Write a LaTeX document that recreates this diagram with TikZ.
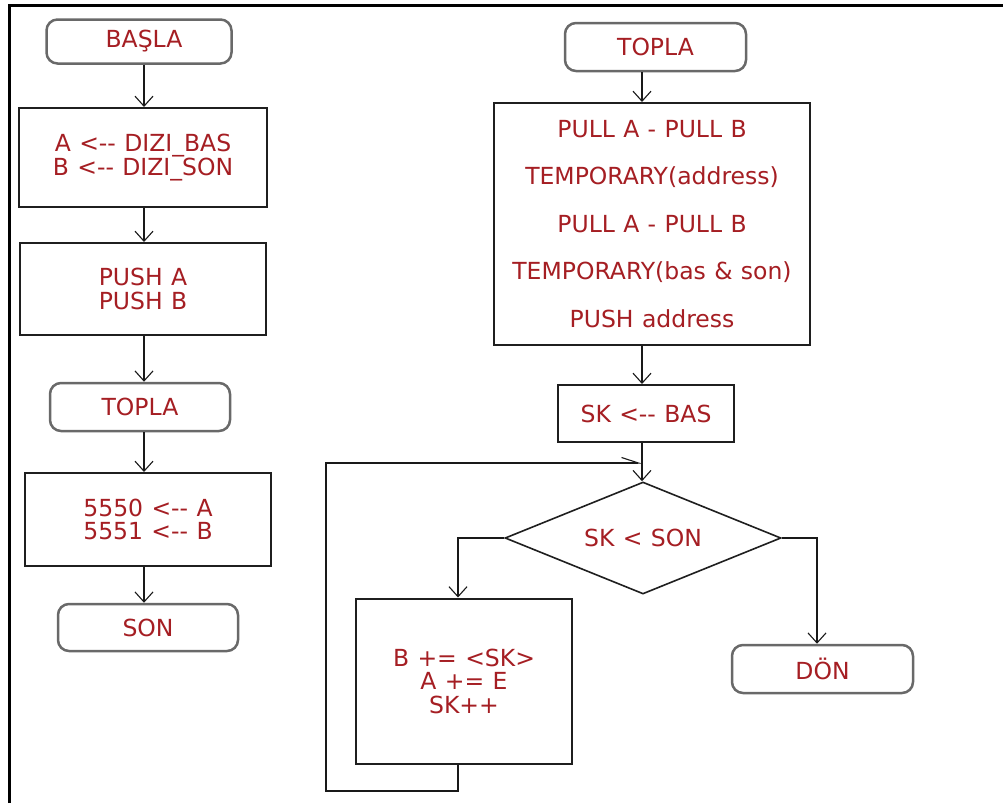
\documentclass[tikz,border=0pt]{standalone}
\usepackage{fontspec}
\setmainfont{DejaVu Sans}[WordSpace=1.12]
\usetikzlibrary{shapes.geometric,arrows.meta}
\definecolor{txt}{RGB}{165,30,35}
\definecolor{rb}{RGB}{105,105,105}
\begin{document}
\begin{tikzpicture}[x=1pt,y=-1pt,
  every node/.style={font=\fontsize{23.5}{23.5}\selectfont, text=txt, inner sep=0pt, align=center},
  term/.style={draw=rb, line width=2.5pt, rounded corners=11pt},
  proc/.style={draw=black!88, line width=2pt},
  cond/.style={diamond, aspect=2.46, draw=black!88, line width=1.6pt, minimum width=276pt, minimum height=112pt},
  arr/.style={draw=black!90, line width=1.6pt, -{Straight Barb[length=10pt,width=18pt,line width=1.1pt]}},
  halfarr/.style={draw=black!90, line width=1.6pt, -{Straight Barb[left,length=17pt,width=11pt,line width=1.1pt]}},
  frame/.style={draw=black, line width=3pt}]
\useasboundingbox (0,0) rectangle (1003,803);
\fill[white] (0,0) rectangle (1003,803);
\draw[frame] (9,803) -- (9,5) -- (1003,5);

% left column
\coordinate (cl) at (144,0);
\node[term, minimum width=185pt, minimum height=44pt] (basla) at (139,41.5) {\hspace*{10pt}BAŞLA};
\node[proc, minimum width=248pt, minimum height=99pt] (a1) at (143,157.5) {A <-{}- DIZI\_BAS\\B <-{}- DIZI\_SON};
\node[proc, minimum width=246pt, minimum height=92pt] (a2) at (143,289) {PUSH A\\PUSH B};
\node[term, minimum width=180pt, minimum height=48pt] (topla1) at (140,407) {TOPLA};
\node[proc, minimum width=246pt, minimum height=93pt] (a3) at (148,519.5) {5550 <-{}- A\\5551 <-{}- B};
\node[term, minimum width=180pt, minimum height=47pt] (son) at (148,627.5) {SON};

\draw[arr] (basla.south -| cl) -- (a1.north -| cl);
\draw[arr] (a1.south -| cl) -- (a2.north -| cl);
\draw[arr] (a2.south -| cl) -- (topla1.north -| cl);
\draw[arr] (topla1.south -| cl) -- (a3.north -| cl);
\draw[arr] (a3.south -| cl) -- (son.north -| cl);

% right column
\coordinate (cr) at (642,0);
\node[term, minimum width=181pt, minimum height=48pt] (topla2) at (655.5,47) {TOPLA};
\node[proc, minimum width=316pt, minimum height=242pt, font=\fontsize{23.5}{47.5}\selectfont] (big) at (652,224)
  {PULL A - PULL B\\TEMPORARY(address)\\PULL A - PULL B\\TEMPORARY(bas \& son)\\PUSH address};
\node[proc, minimum width=176pt, minimum height=57pt] (sk) at (646,413.5) {SK <-{}- BAS};
\node[cond] (dec) at (643,538) {SK < SON};
\node[proc, minimum width=216pt, minimum height=165pt] (body) at (464,681) {B += <SK>\\A += E\\SK++};
\node[term, minimum width=181pt, minimum height=48pt] (don) at (822.5,669) {DÖN};

\coordinate (j) at (642,463);
\coordinate (bx) at (458,0);
\coordinate (dx) at (817,0);
\coordinate (lp) at (326,791);

\draw[arr] (topla2.south -| cr) -- (big.north -| cr);
\draw[arr] (big.south -| cr) -- (sk.north -| cr);
\draw[black!90, line width=1.6pt] (sk.south -| cr) -- (j);
\draw[arr] (j) -- (dec.north -| cr);
\draw[arr] (dec.west) -| (bx |- body.north);
\draw[arr] (dec.east) -| (dx |- don.north);
\draw[halfarr] (bx |- body.south) |- (lp) |- (j);
\end{tikzpicture}
\end{document}
